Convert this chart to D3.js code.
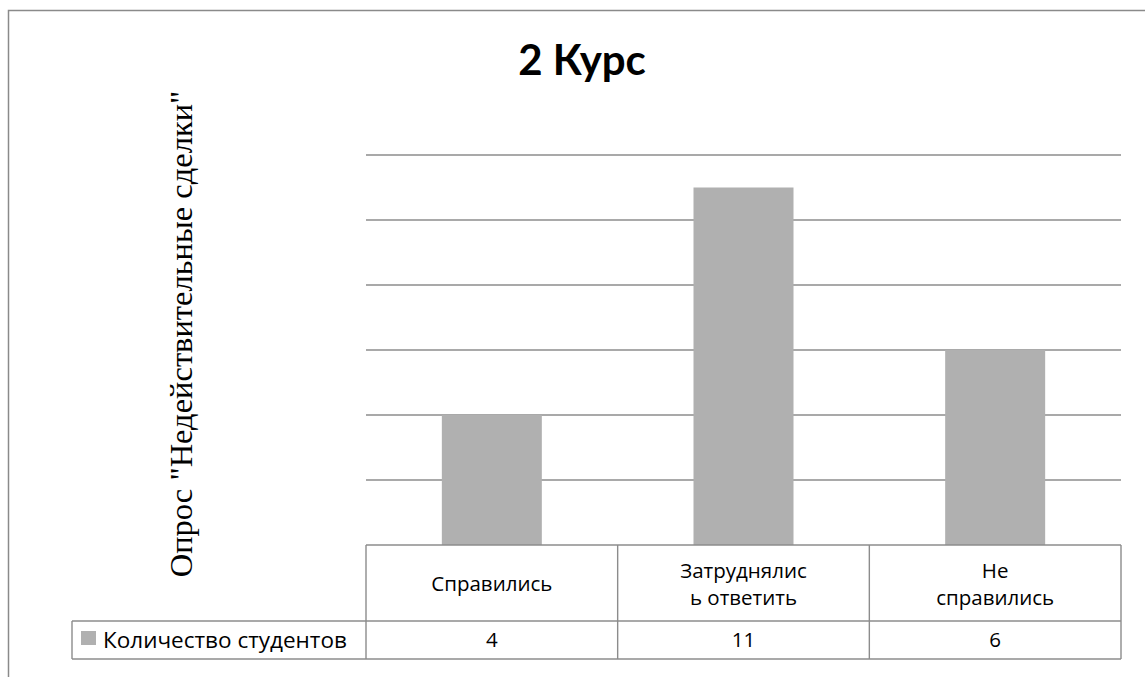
<!DOCTYPE html>
<html><head><meta charset="utf-8">
<script src="https://cdn.jsdelivr.net/npm/d3@7"></script>
<style>body{margin:0;background:#fff}svg{display:block}</style>
</head><body>
<script>
const title = "2 Курс";
const yTitle = "Опрос \"Недействительные сделки\"";
const seriesName = "Количество студентов";
const categories = ["Справились", "Затруднялись ответить", "Не справились"];
const categoryLines = [["Справились"], ["Затруднялис", "ь ответить"], ["Не", "справились"]];
const values = [4, 11, 6];
const yTicks = [0, 2, 4, 6, 8, 10, 12];

const W = 1145, H = 677;
const svg = d3.select("body").append("svg").attr("width", W).attr("height", H);
const sans = "'Open Sans', Lato, sans-serif";
const lineColor = "#8c8c8c";

// outer frame
svg.append("path").attr("d", "M8.5,677 V10.5 H1145").attr("fill","none").attr("stroke","#8a8a8a").attr("stroke-width",1.5);

const plotL = 366, plotR = 1121, plotT = 155, plotB = 545;
const x = d3.scaleBand().domain(categories).range([plotL, plotR]).paddingInner(0).paddingOuter(0);
const y = d3.scaleLinear().domain([0, 12]).range([plotB, plotT]);

// gridlines
svg.append("g").selectAll("line").data(yTicks.filter(t => t > 0)).join("line")
  .attr("x1", plotL).attr("x2", plotR).attr("y1", d => y(d)).attr("y2", d => y(d))
  .attr("stroke", lineColor).attr("stroke-width", 1.4);

// bars
const bw = 100;
svg.append("g").selectAll("rect").data(values).join("rect")
  .attr("x", (d, i) => x(categories[i]) + x.bandwidth()/2 - bw/2)
  .attr("width", bw)
  .attr("y", d => y(d)).attr("height", d => y(0) - y(d))
  .attr("fill", "#b0b0b0");

// title
svg.append("text").attr("x", 582).attr("y", 75).attr("text-anchor","middle")
  .attr("font-family", "Lato, sans-serif").attr("font-weight", "bold").attr("font-size", 42).text(title);

// y title
svg.append("text").attr("transform", "translate(192,334) rotate(-90)").attr("text-anchor","middle")
  .attr("font-family", "'Liberation Serif', 'Times New Roman', serif").attr("font-size", 32.5).text(yTitle);

// data table
const rowTop = plotB, rowMid = 621, rowBot = 659, legL = 72;
const tg = svg.append("g").attr("stroke", lineColor).attr("stroke-width", 1.4).attr("fill","none");
tg.append("line").attr("x1", plotL).attr("x2", plotR).attr("y1", rowTop).attr("y2", rowTop);
tg.append("line").attr("x1", legL).attr("x2", plotR).attr("y1", rowMid).attr("y2", rowMid);
tg.append("line").attr("x1", legL).attr("x2", plotR).attr("y1", rowBot).attr("y2", rowBot);
tg.append("line").attr("x1", legL).attr("x2", legL).attr("y1", rowMid).attr("y2", rowBot);
tg.selectAll("line.v").data(categories.map(c => x(c)).concat([plotR])).join("line").attr("class","v")
  .attr("x1", d => d).attr("x2", d => d).attr("y1", rowTop).attr("y2", rowBot);

const fs = 20.5;
const cg = svg.append("g").attr("font-family", sans).attr("font-size", fs).attr("text-anchor","middle").attr("fill","#000");
categoryLines.forEach((lines, i) => {
  const cx = x(categories[i]) + x.bandwidth()/2;
  const n = lines.length, lh = 27;
  const cy = (rowTop + rowMid)/2 + 1;
  lines.forEach((ln, j) => {
    cg.append("text").attr("x", cx).attr("y", cy + (j - (n-1)/2) * lh).attr("dy", "0.35em").text(ln);
  });
  cg.append("text").attr("x", cx).attr("y", (rowMid + rowBot)/2).attr("dy","0.35em").text(values[i]);
});

// legend cell
svg.append("rect").attr("x", 81).attr("y", 631).attr("width", 15).attr("height", 14).attr("fill", "#b0b0b0");
svg.append("text").attr("x", 103).attr("y", (rowMid + rowBot)/2).attr("dy","0.35em")
  .attr("font-family", sans).attr("font-size", 22.5).text(seriesName);
</script>
</body></html>
